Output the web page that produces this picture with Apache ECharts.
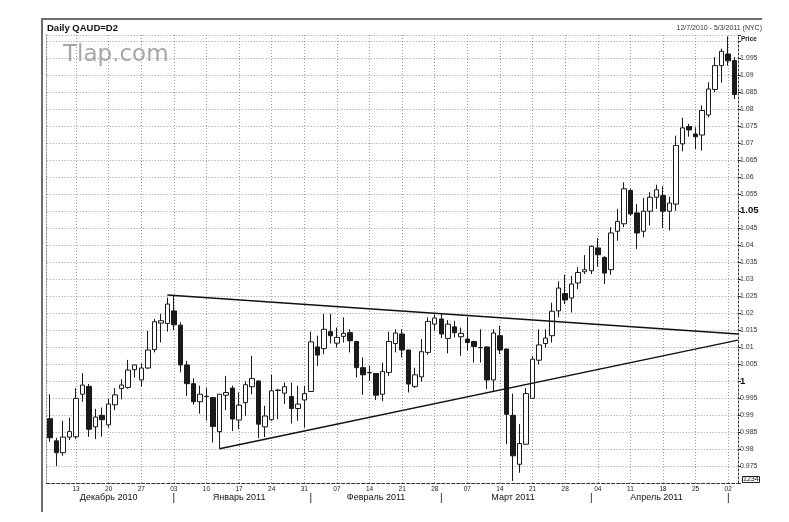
<!DOCTYPE html>
<html>
<head>
<meta charset="utf-8">
<title>Daily QAUD=D2</title>
<script src="https://cdn.jsdelivr.net/npm/echarts@6/dist/echarts.min.js"></script>
<style>
  html, body { margin: 0; padding: 0; background: #fff; }
  #main { width: 789px; height: 522px; }
</style>
</head>
<body>
<div id="main"></div>
<script>
  // 1. data: AUD daily bars, 12/7/2010 - 5/3/2011
  var firstDay = '2010-12-07';
  var lastDay = '2011-05-03';

  var openPrices = [
    0.9889, 0.9824, 0.9789, 0.9835, 0.9836, 0.9961, 0.9984, 0.9865, 0.9899, 0.9871,
    0.9930, 0.9978, 0.9981, 1.0033, 1.0003, 1.0038, 1.0092, 1.0170, 1.0169, 1.0206,
    1.0164, 1.0047, 0.9992, 0.9939, 0.9955, 0.9951, 0.9851, 0.9958, 0.9979, 0.9885,
    0.9936, 0.9983, 1.0000, 0.9865, 0.9886, 0.9973, 0.9964, 0.9954, 0.9919, 0.9944,
    0.9969, 1.0100, 1.0095, 1.0145, 1.0111, 1.0131, 1.0142, 1.0116, 1.0039, 1.0025,
    1.0022, 0.9961, 1.0025, 1.0110, 1.0138, 1.0091, 0.9984, 1.0012, 1.0084, 1.0167,
    1.0182, 1.0125, 1.0159, 1.0130, 1.0123, 1.0116, 1.0098, 1.0100, 1.0003, 1.0133,
    1.0094, 0.9899, 0.9755, 0.9814, 0.9949, 1.0061, 1.0110, 1.0133, 1.0206, 1.0257,
    1.0244, 1.0288, 1.0321, 1.0324, 1.0391, 1.0363, 1.0327, 1.0440, 1.0462, 1.0560,
    1.0494, 1.0440, 1.0499, 1.0540, 1.0545, 1.0499, 1.0520, 1.0697, 1.0748, 1.0726,
    1.0723, 1.0782, 1.0857, 1.0927, 1.0961, 1.0942
  ];
  var closePrices = [
    0.9833, 0.9789, 0.9835, 0.9851, 0.9949, 0.9988, 0.9858, 0.9894, 0.9886, 0.9932,
    0.9959, 0.9988, 1.0032, 1.0047, 1.0038, 1.0091, 1.0174, 1.0177, 1.0226, 1.0165,
    1.0047, 0.9992, 0.9939, 0.9961, 0.9954, 0.9866, 0.9961, 0.9966, 0.9888, 0.9929,
    0.9989, 1.0007, 0.9873, 0.9897, 0.9971, 0.9972, 0.9983, 0.9919, 0.9932, 0.9963,
    1.0115, 1.0076, 1.0152, 1.0133, 1.0128, 1.0140, 1.0118, 1.0039, 1.0018, 1.0024,
    0.9958, 1.0028, 1.0116, 1.0141, 1.0091, 0.9991, 1.0018, 1.0086, 1.0175, 1.0185,
    1.0138, 1.0167, 1.0142, 1.0140, 1.0113, 1.0101, 1.0098, 1.0003, 1.0141, 1.0091,
    0.9902, 0.9780, 0.9816, 0.9963, 1.0064, 1.0106, 1.0126, 1.0205, 1.0273, 1.0238,
    1.0285, 1.0319, 1.0327, 1.0396, 1.0371, 1.0317, 1.0435, 1.0469, 1.0565, 1.0491,
    1.0435, 1.0499, 1.0540, 1.0562, 1.0499, 1.0523, 1.0692, 1.0744, 1.0738, 1.0718,
    1.0795, 1.0858, 1.0927, 1.0969, 1.0941, 1.0842
  ];
  var lowPrices = [
    0.9821, 0.9750, 0.9780, 0.9826, 0.9829, 0.9939, 0.9836, 0.9829, 0.9836, 0.9863,
    0.9914, 0.9946, 0.9977, 1.0010, 0.9983, 1.0035, 1.0084, 1.0113, 1.0145, 1.0150,
    1.0025, 0.9956, 0.9930, 0.9904, 0.9883, 0.9819, 0.9801, 0.9914, 0.9853, 0.9858,
    0.9897, 0.9961, 0.9832, 0.9835, 0.9883, 0.9888, 0.9932, 0.9875, 0.9883, 0.9863,
    0.9968, 1.0044, 1.0079, 1.0110, 1.0098, 1.0113, 1.0084, 1.0010, 0.9959, 1.0000,
    0.9944, 0.9941, 1.0015, 1.0084, 1.0069, 0.9966, 0.9979, 0.9998, 1.0077, 1.0147,
    1.0126, 1.0081, 1.0128, 1.0074, 1.0089, 1.0054, 1.0054, 0.9976, 0.9971, 1.0079,
    0.9814, 0.9706, 0.9730, 0.9814, 0.9949, 1.0049, 1.0098, 1.0113, 1.0187, 1.0226,
    1.0201, 1.0270, 1.0314, 1.0314, 1.0336, 1.0285, 1.0312, 1.0412, 1.0452, 1.0486,
    1.0388, 1.0422, 1.0457, 1.0506, 1.0450, 1.0442, 1.0500, 1.0675, 1.0718, 1.0682,
    1.0677, 1.0775, 1.0849, 1.0877, 1.0927, 1.0829
  ];
  var highPrices = [
    0.9961, 0.9833, 0.9883, 0.9892, 0.9979, 1.0023, 0.9991, 0.9918, 0.9922, 0.9947,
    0.9979, 1.0005, 1.0062, 1.0048, 1.0051, 1.0147, 1.0182, 1.0197, 1.0245, 1.0250,
    1.0172, 1.0059, 1.0008, 0.9986, 0.9980, 0.9952, 0.9962, 1.0015, 0.9986, 0.9966,
    1.0000, 1.0074, 1.0001, 0.9927, 1.0018, 0.9977, 0.9995, 0.9995, 0.9986, 0.9986,
    1.0145, 1.0133, 1.0197, 1.0197, 1.0157, 1.0187, 1.0152, 1.0118, 1.0069, 1.0044,
    1.0022, 1.0054, 1.0145, 1.0152, 1.0152, 1.0091, 1.0039, 1.0123, 1.0187, 1.0195,
    1.0198, 1.0179, 1.0177, 1.0157, 1.0187, 1.0118, 1.0152, 1.0101, 1.0152, 1.0162,
    1.0094, 0.9963, 0.9873, 0.9979, 1.0074, 1.0152, 1.0152, 1.0230, 1.0293, 1.0312,
    1.0309, 1.0334, 1.0370, 1.0398, 1.0420, 1.0367, 1.0452, 1.0506, 1.0584, 1.0565,
    1.0520, 1.0538, 1.0555, 1.0577, 1.0572, 1.0542, 1.0721, 1.0774, 1.0756, 1.0746,
    1.0810, 1.0878, 1.0952, 1.0977, 1.1013, 1.0952
  ];

  // trend lines: [bar index, price]
  var upperTrend = [[18, 1.0253], [105.5, 1.0138]];
  var lowerTrend = [[26, 0.9801], [105.5, 1.0120]];

  // price axis
  var priceMin = 0.97;
  var priceMax = 1.1017;
  var priceStep = 0.005;

  var monthNames = ['Январь', 'Февраль', 'Март', 'Апрель', 'Май', 'Июнь',
    'Июль', 'Август', 'Сентябрь', 'Октябрь', 'Ноябрь', 'Декабрь'];

  // 2. trading days (Mon-Fri) between the two dates
  var dates = [];
  var stop = new Date(lastDay + 'T00:00:00Z');
  for (var d = new Date(firstDay + 'T00:00:00Z'); d <= stop; d.setUTCDate(d.getUTCDate() + 1)) {
    var wd = d.getUTCDay();
    if (wd !== 0 && wd !== 6) dates.push(d.toISOString().slice(0, 10));
  }

  function isMonday(index) {
    return new Date(dates[index] + 'T00:00:00Z').getUTCDay() === 1;
  }

  // month ranges -> separator at first day, name in the middle
  var ranges = [];
  dates.forEach(function (ds, i) {
    var key = ds.slice(0, 7);
    var last = ranges[ranges.length - 1];
    if (!last || last.key !== key) ranges.push({ key: key, from: i, to: i });
    else last.to = i;
  });
  var monthFirst = {};
  var monthMid = {};
  ranges.forEach(function (r, k) {
    if (k > 0) monthFirst[r.from] = true;
    if (r.to - r.from >= 4) {
      monthMid[Math.round((r.from + r.to) / 2)] = monthNames[+r.key.slice(5, 7) - 1] + ' ' + r.key.slice(0, 4);
    }
  });

  var candles = dates.map(function (ds, i) {
    return [openPrices[i], closePrices[i], lowPrices[i], highPrices[i]];
  });

  var font = 'Liberation Sans';
  var gridColor = '#9a9a9a';

  // 3. options
  var option = {
    animation: false,
    backgroundColor: '#fff',
    textStyle: { fontFamily: font },
    title: [
      {
        text: 'Daily QAUD=D2', left: 47, top: 23, padding: 0,
        textStyle: { fontSize: 9.5, fontWeight: 'bold', color: '#111', fontFamily: font }
      },
      {
        text: '12/7/2010 - 5/3/2011 (NYC)', right: 27, top: 25, padding: 0,
        textStyle: { fontSize: 7, fontWeight: 'normal', color: '#333', fontFamily: font }
      },
      {
        text: 'Price', left: 741, top: 36, padding: 0,
        textStyle: { fontSize: 6.5, fontWeight: 'bold', color: '#222', fontFamily: font }
      },
      {
        text: 'Tlap.com', left: 63, top: 44, padding: 0,
        textStyle: { fontSize: 23, fontWeight: 'normal', color: '#a6a6a6', fontFamily: 'DejaVu Sans' }
      },
      {
        text: '1234', left: 742, top: 476, padding: [0, 1],
        borderWidth: 1, borderColor: '#222',
        textStyle: { fontSize: 7, fontWeight: 'normal', color: '#111', fontFamily: font }
      }
    ],
    // outer frame (left and top edges)
    graphic: [
      {
        type: 'polyline', silent: true,
        shape: { points: [[42, 512], [42, 19], [762, 19]] },
        style: { stroke: '#6e6e6e', lineWidth: 2, fill: null }
      }
    ],
    grid: { left: 46.7, right: 51, top: 35, bottom: 39, outerBoundsMode: 'none' },
    xAxis: [
      {
        type: 'category',
        data: dates,
        position: 'bottom',
        boundaryGap: true,
        axisLine: { show: true, onZero: false, lineStyle: { color: '#333', width: 1, type: [3, 2] } },
        axisTick: { show: false },
        axisLabel: {
          interval: function (index) { return isMonday(index); },
          formatter: function (v) { return v.slice(8, 10); },
          fontSize: 6.5, color: '#1a1a1a', margin: 3, fontFamily: font
        },
        splitLine: {
          show: true,
          alignWithLabel: true,
          interval: function (index) { return isMonday(index); },
          lineStyle: { color: gridColor, width: 1, type: [1, 2] }
        }
      },
      {
        // index scale for the trend lines
        type: 'value', min: -0.5, max: 105.5, show: false, position: 'top'
      },
      {
        // month names and separators
        type: 'category',
        data: dates,
        position: 'bottom',
        axisLine: { show: false },
        axisTick: { show: false },
        splitLine: { show: false },
        axisLabel: {
          interval: function (index) { return !!(monthMid[index] || monthFirst[index]); },
          formatter: function (v, index) {
            if (monthMid[index]) return '{m|' + monthMid[index] + '}';
            return '{s||}';
          },
          margin: 10,
          rich: {
            m: { fontSize: 9, color: '#111', fontFamily: font },
            s: { fontSize: 10, color: '#111', fontFamily: font }
          }
        }
      }
    ],
    yAxis: [
      {
        type: 'value',
        position: 'right',
        scale: true,
        min: priceMin,
        max: priceMax,
        interval: priceStep,
        axisLine: { show: true, onZero: false, lineStyle: { color: '#333', width: 1, type: [2, 2] } },
        axisTick: { show: true, length: 3, lineStyle: { color: '#333' } },
        axisLabel: {
          margin: 2,
          fontSize: 7,
          color: '#333',
          fontFamily: font,
          formatter: function (v) {
            if (v > 1.0976 || v < 0.9724) return '';
            var s = String(+v.toFixed(3));
            if (s === '1' || s === '1.05') return '{b|' + s + '}';
            return s;
          },
          rich: {
            b: { fontSize: 9.5, fontWeight: 'bold', color: '#111', fontFamily: font }
          }
        },
        splitLine: { show: true, lineStyle: { color: gridColor, width: 1, type: [1, 2] } }
      },
      {
        // dotted left border of the plot
        type: 'value',
        position: 'left',
        min: priceMin,
        max: priceMax,
        axisLine: { show: true, onZero: false, lineStyle: { color: '#777', width: 1, type: [1, 2] } },
        axisTick: { show: false },
        axisLabel: { show: false },
        splitLine: { show: false }
      }
    ],
    series: [
      {
        name: 'QAUD=D2',
        type: 'candlestick',
        xAxisIndex: 0,
        yAxisIndex: 0,
        data: candles,
        barWidth: 5,
        z: 2,
        itemStyle: {
          color: '#ffffff',
          color0: '#1a1a1a',
          borderColor: '#1a1a1a',
          borderColor0: '#1a1a1a',
          borderColorDoji: '#1a1a1a',
          borderWidth: 1
        }
      },
      {
        name: 'upper',
        type: 'line',
        xAxisIndex: 1,
        yAxisIndex: 0,
        data: upperTrend,
        symbol: 'none',
        z: 3,
        lineStyle: { color: '#111', width: 1.5 }
      },
      {
        name: 'lower',
        type: 'line',
        xAxisIndex: 1,
        yAxisIndex: 0,
        data: lowerTrend,
        symbol: 'none',
        z: 3,
        lineStyle: { color: '#111', width: 1.5 }
      }
    ]
  };

  // 4. draw
  var myChart = echarts.init(document.getElementById('main'));
  myChart.setOption(option);
</script>
</body>
</html>
